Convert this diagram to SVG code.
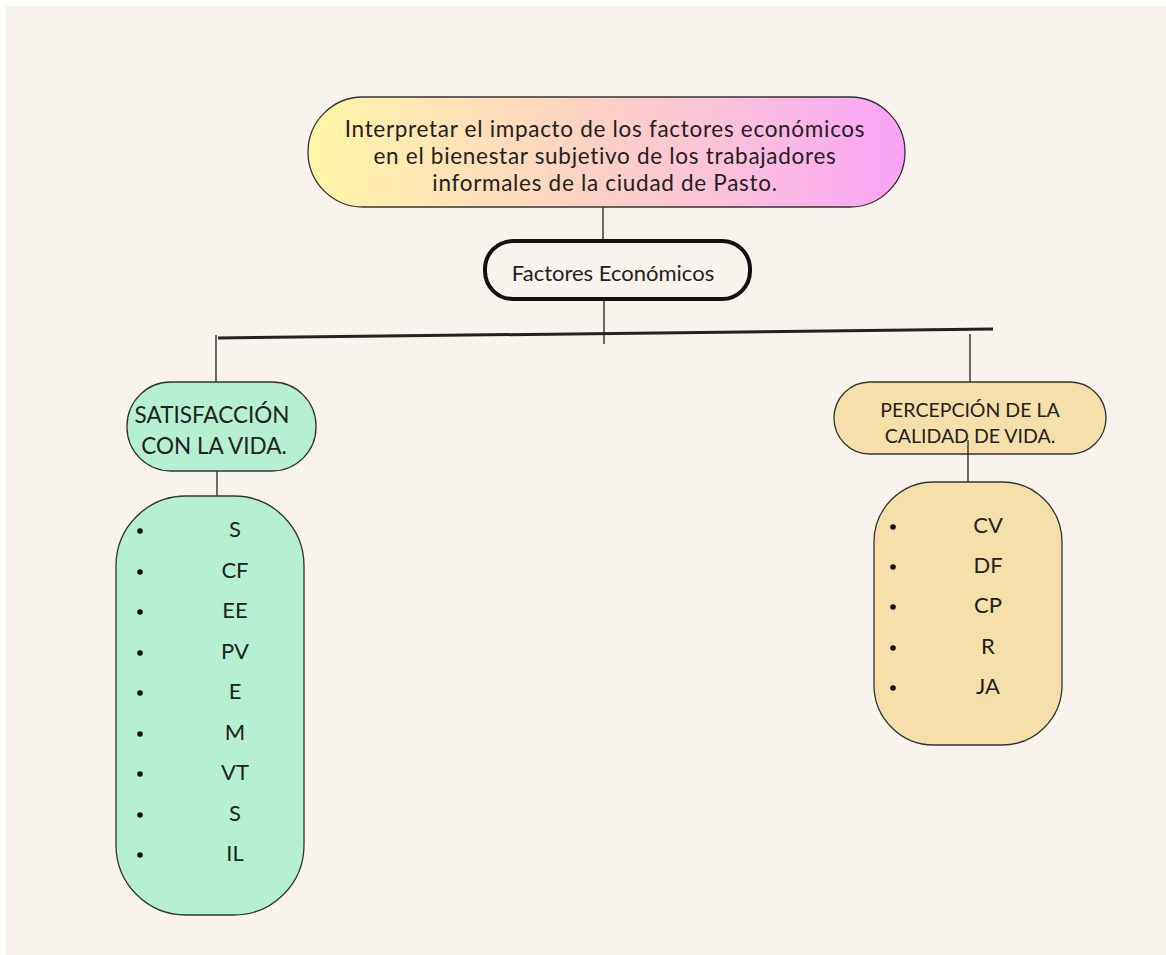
<svg xmlns="http://www.w3.org/2000/svg" width="1166" height="955" viewBox="0 0 1166 955">
<defs>
<linearGradient id="g1" x1="0" y1="0" x2="1" y2="0">
<stop offset="0" stop-color="#fff6a6"/>
<stop offset="0.45" stop-color="#fdd3c2"/>
<stop offset="0.75" stop-color="#fdbde0"/>
<stop offset="1" stop-color="#f9a3f6"/>
</linearGradient>
<style>
text{font-family:Lato,"Open Sans","Liberation Sans",sans-serif;fill:#222;}
.t{text-anchor:middle;}
.g{font-size:22.5px;letter-spacing:0.7px;}
.conn line{stroke:#222;stroke-width:1.3;}
.box{stroke:#333;stroke-width:1.3;}
.it{font-size:22px;text-anchor:middle;}
.b{fill:#111;}
</style>
</defs>
<rect x="0" y="0" width="1166" height="955" fill="#ffffff"/>
<rect x="6" y="6" width="1160" height="949" fill="#f8f3ed"/>

<g id="connectors" class="conn">
<line x1="603" y1="207" x2="603" y2="241"/>
<line x1="604" y1="299" x2="604" y2="344"/>
<line x1="218" y1="338" x2="993" y2="329" style="stroke-width:3"/>
<line x1="216" y1="335" x2="216" y2="383"/>
<line x1="970" y1="334" x2="970" y2="383"/>
<line x1="217" y1="468" x2="217" y2="497"/>
</g>

<g id="goal">
<rect x="308" y="97" width="597" height="110" rx="55" fill="url(#g1)" class="box"/>
<text class="t g" x="605" y="137">Interpretar el impacto de los factores económicos</text>
<text class="t g" x="605" y="164">en el bienestar subjetivo de los trabajadores</text>
<text class="t g" x="605" y="191">informales de la ciudad de Pasto.</text>
</g>

<g id="factores">
<rect x="485" y="241" width="265" height="58" rx="28" fill="#f8f3ed" stroke="#111" stroke-width="4"/>
<text class="t" x="613" y="281" font-size="22">Factores Económicos</text>
</g>

<g id="satisfaccion">
<rect x="127" y="382" width="189" height="89" rx="44" fill="#b6f0d2" class="box"/>
<text class="t" x="212" y="423" font-size="22.5">SATISFACCIÓN</text>
<text class="t" x="214" y="454" font-size="22.5">CON LA VIDA.</text>
</g>

<g id="lista-satisfaccion">
<rect x="116" y="496" width="188" height="419" rx="70" fill="#b6f0d2" class="box"/>
<circle class="b" cx="140" cy="531" r="2.8"/><text class="it" x="235" y="537">S</text>
<circle class="b" cx="140" cy="572" r="2.8"/><text class="it" x="235" y="578">CF</text>
<circle class="b" cx="140" cy="612" r="2.8"/><text class="it" x="235" y="618">EE</text>
<circle class="b" cx="140" cy="653" r="2.8"/><text class="it" x="235" y="659">PV</text>
<circle class="b" cx="140" cy="693" r="2.8"/><text class="it" x="235" y="699">E</text>
<circle class="b" cx="140" cy="734" r="2.8"/><text class="it" x="235" y="740">M</text>
<circle class="b" cx="140" cy="774" r="2.8"/><text class="it" x="235" y="780">VT</text>
<circle class="b" cx="140" cy="815" r="2.8"/><text class="it" x="235" y="821">S</text>
<circle class="b" cx="140" cy="855" r="2.8"/><text class="it" x="235" y="861">IL</text>
</g>

<g id="percepcion">
<rect x="834" y="382" width="272" height="72" rx="36" fill="#f5e0aa" class="box"/>
<text class="t" x="970" y="417" font-size="19.5">PERCEPCIÓN DE LA</text>
<text class="t" x="970" y="443" font-size="19.5">CALIDAD DE VIDA.</text>
<line x1="968" y1="440" x2="968" y2="483" stroke="#222" stroke-width="1.3"/>
</g>

<g id="lista-percepcion">
<rect x="874" y="482" width="188" height="263" rx="60" fill="#f5e0aa" class="box"/>
<circle class="b" cx="893" cy="527" r="2.8"/><text class="it" x="988" y="533">CV</text>
<circle class="b" cx="893" cy="567" r="2.8"/><text class="it" x="988" y="573">DF</text>
<circle class="b" cx="893" cy="607" r="2.8"/><text class="it" x="988" y="613">CP</text>
<circle class="b" cx="893" cy="648" r="2.8"/><text class="it" x="988" y="654">R</text>
<circle class="b" cx="893" cy="688" r="2.8"/><text class="it" x="988" y="694">JA</text>
</g>
</svg>
